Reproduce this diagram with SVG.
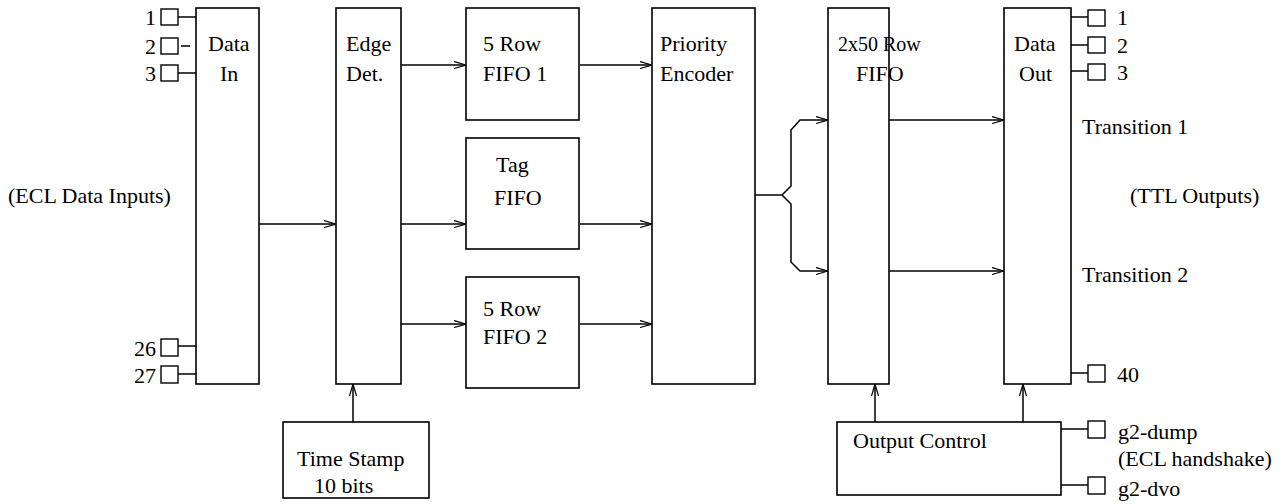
<svg xmlns="http://www.w3.org/2000/svg" width="1286" height="504" viewBox="0 0 1286 504">
<defs>
<style>
.box{fill:#fff;stroke:#000;stroke-width:1.6}
.pin{fill:#fff;stroke:#000;stroke-width:1.4}
.ln{fill:none;stroke:#000;stroke-width:1.5}
text{font-family:"Liberation Serif","Times New Roman",serif;font-size:22px;fill:#000}
</style>
<marker id="ah" viewBox="0 0 12 8" refX="12" refY="4" markerWidth="12" markerHeight="8" markerUnits="userSpaceOnUse" orient="auto">
<path d="M0,0.5 L12,4 L0,7.5" fill="none" stroke="#000" stroke-width="1.2"/>
</marker>
</defs>
<rect width="1286" height="504" fill="#fff"/>

<g id="connectors">
<line class="ln" x1="259" y1="224" x2="336" y2="224" marker-end="url(#ah)"/>
<line class="ln" x1="401" y1="65" x2="466" y2="65" marker-end="url(#ah)"/>
<line class="ln" x1="401" y1="224" x2="466" y2="224" marker-end="url(#ah)"/>
<line class="ln" x1="401" y1="324" x2="466" y2="324" marker-end="url(#ah)"/>
<line class="ln" x1="580" y1="65" x2="652" y2="65" marker-end="url(#ah)"/>
<line class="ln" x1="580" y1="224" x2="652" y2="224" marker-end="url(#ah)"/>
<line class="ln" x1="580" y1="324" x2="652" y2="324" marker-end="url(#ah)"/>
<path class="ln" d="M755,195 L782,195 L791,186 L791,130 L800,120 L828,120" marker-end="url(#ah)"/>
<path class="ln" d="M782,195 L791,204 L791,262 L800,271 L828,271" marker-end="url(#ah)"/>
<line class="ln" x1="889" y1="120" x2="1004" y2="120" marker-end="url(#ah)"/>
<line class="ln" x1="889" y1="271" x2="1004" y2="271" marker-end="url(#ah)"/>
<line class="ln" x1="353" y1="422" x2="353" y2="384" marker-end="url(#ah)"/>
<line class="ln" x1="875" y1="422" x2="875" y2="384" marker-end="url(#ah)"/>
<line class="ln" x1="1023" y1="422" x2="1023" y2="384" marker-end="url(#ah)"/>
<line class="ln" x1="178" y1="17" x2="196" y2="17"/>
<line class="ln" x1="181" y1="46" x2="190" y2="46"/>
<line class="ln" x1="178" y1="73" x2="196" y2="73"/>
<line class="ln" x1="178" y1="346" x2="196" y2="346"/>
<line class="ln" x1="178" y1="374" x2="196" y2="374"/>
<line class="ln" x1="1071" y1="17" x2="1088" y2="17"/>
<line class="ln" x1="1071" y1="45" x2="1088" y2="45"/>
<line class="ln" x1="1071" y1="71" x2="1088" y2="71"/>
<line class="ln" x1="1071" y1="373" x2="1088" y2="373"/>
<line class="ln" x1="1061" y1="429" x2="1088" y2="429"/>
<line class="ln" x1="1061" y1="485" x2="1088" y2="485"/>
</g>

<g id="in-pins">
<rect class="pin" x="161" y="9" width="17" height="16"/>
<rect class="pin" x="161" y="38" width="17" height="16"/>
<rect class="pin" x="161" y="65" width="17" height="16"/>
<rect class="pin" x="161" y="339" width="17" height="17"/>
<rect class="pin" x="161" y="366" width="17" height="17"/>
<text x="156" y="25" text-anchor="end">1</text>
<text x="156" y="54" text-anchor="end">2</text>
<text x="156" y="81" text-anchor="end">3</text>
<text x="156" y="356" text-anchor="end">26</text>
<text x="156" y="383" text-anchor="end">27</text>
<text x="8" y="203">(ECL Data Inputs)</text>
</g>

<g id="data-in">
<rect class="box" x="196" y="8" width="63" height="376"/>
<text x="208" y="51">Data</text>
<text x="220" y="81">In</text>
</g>

<g id="edge-det">
<rect class="box" x="336" y="8" width="65" height="376"/>
<text x="346" y="51">Edge</text>
<text x="346" y="81">Det.</text>
</g>

<g id="fifo1">
<rect class="box" x="466" y="8" width="113" height="112"/>
<text x="483" y="51">5 Row</text>
<text x="483" y="81">FIFO 1</text>
</g>

<g id="tag-fifo">
<rect class="box" x="466" y="138" width="113" height="111"/>
<text x="496" y="172">Tag</text>
<text x="494" y="205">FIFO</text>
</g>

<g id="fifo2">
<rect class="box" x="466" y="277" width="113" height="111"/>
<text x="483" y="316">5 Row</text>
<text x="483" y="344">FIFO 2</text>
</g>

<g id="priority-encoder">
<rect class="box" x="652" y="8" width="103" height="376"/>
<text x="660" y="51">Priority</text>
<text x="660" y="81">Encoder</text>
</g>

<g id="fifo-2x50">
<rect class="box" x="828" y="8" width="61" height="376"/>
<text x="838" y="51" style="font-size:20px">2x50 Row</text>
<text x="856" y="81">FIFO</text>
</g>

<g id="data-out">
<rect class="box" x="1004" y="8" width="67" height="376"/>
<text x="1014" y="51">Data</text>
<text x="1019" y="81">Out</text>
</g>

<g id="out-pins">
<rect class="pin" x="1088" y="10" width="17" height="16"/>
<rect class="pin" x="1088" y="37" width="17" height="16"/>
<rect class="pin" x="1088" y="64" width="17" height="16"/>
<rect class="pin" x="1088" y="365" width="17" height="17"/>
<rect class="pin" x="1088" y="421" width="17" height="17"/>
<rect class="pin" x="1088" y="477" width="17" height="17"/>
<text x="1117" y="25">1</text>
<text x="1117" y="53">2</text>
<text x="1117" y="80">3</text>
<text x="1117" y="382">40</text>
<text x="1118" y="439">g2-dump</text>
<text x="1118" y="466">(ECL handshake)</text>
<text x="1118" y="496">g2-dvo</text>
<text x="1082" y="134">Transition 1</text>
<text x="1082" y="282">Transition 2</text>
<text x="1130" y="203">(TTL Outputs)</text>
</g>

<g id="time-stamp">
<rect class="box" x="283" y="422" width="146" height="76"/>
<text x="297" y="466">Time Stamp</text>
<text x="314" y="493">10 bits</text>
</g>

<g id="output-control">
<rect class="box" x="837" y="422" width="224" height="73"/>
<text x="853" y="448">Output Control</text>
</g>
</svg>
